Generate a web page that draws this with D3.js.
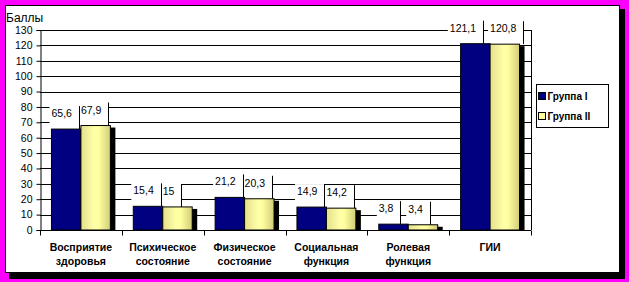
<!DOCTYPE html>
<html>
<head>
<meta charset="utf-8">
<script src="https://cdn.jsdelivr.net/npm/d3@7"></script>
<style>
  body { margin: 0; background: #ff00ff; }
  svg { display: block; font-family: 'Liberation Sans', Arial, sans-serif; }
</style>
</head>
<body>
<script>
// chart data
const categories = [
  'Восприятие\nздоровья',
  'Психическое\nсостояние',
  'Физическое\nсостояние',
  'Социальная\nфункция',
  'Ролевая\nфункция',
  'ГИИ'
];
const seriesNames = ['Группа I', 'Группа II'];
const group1 = [65.6, 15.4, 21.2, 14.9, 3.8, 121.1];
const group2 = [67.9, 15, 20.3, 14.2, 3.4, 120.8];
const yTicks = [0, 10, 20, 30, 40, 50, 60, 70, 80, 90, 100, 110, 120, 130];
const yTitle = 'Баллы';

const width = 629;
const height = 282;
const margin = { top: 30, right: 98, bottom: 52, left: 40 };
const innerWidth = width - margin.left - margin.right;
const innerHeight = height - margin.top - margin.bottom;

const series = [group1, group2];
const fills = ['#000080', 'url(#yellowGrad)'];
const legendFills = ['#000080', '#ffff99'];

const svg = d3.select('body').append('svg')
  .attr('width', width)
  .attr('height', height);

const defs = svg.append('defs');
const grad = defs.append('linearGradient')
  .attr('id', 'yellowGrad')
  .attr('x1', '0%').attr('x2', '100%')
  .attr('y1', '0%').attr('y2', '0%');
grad.append('stop').attr('offset', '0%').attr('stop-color', '#e4df8c');
grad.append('stop').attr('offset', '45%').attr('stop-color', '#ffffa8');
grad.append('stop').attr('offset', '60%').attr('stop-color', '#ffffa0');
grad.append('stop').attr('offset', '100%').attr('stop-color', '#d2cc78');

// frame with shadow
svg.append('rect')
  .attr('x', 9).attr('y', 9)
  .attr('width', 616).attr('height', 270)
  .attr('fill', '#000');
svg.append('rect')
  .attr('x', 5.5).attr('y', 5.5)
  .attr('width', 614).attr('height', 267)
  .attr('fill', '#fff')
  .attr('stroke', '#000')
  .attr('stroke-width', 1);

const g = svg.append('g')
  .attr('transform', `translate(${margin.left}, ${margin.top})`);

const xScale = d3.scaleBand()
  .domain(d3.range(categories.length))
  .range([0, innerWidth])
  .padding(0);

const bw = xScale.bandwidth();
const xInner = d3.scaleBand()
  .domain([0, 1])
  .range([bw * 0.14, bw * 0.86])
  .padding(0);

const yScale = d3.scaleLinear()
  .domain([0, 130])
  .range([innerHeight, 0]);

// gridlines
g.append('g')
  .selectAll('line').data(yTicks.slice(1)).enter().append('line')
    .attr('x1', 0)
    .attr('x2', innerWidth)
    .attr('y1', d => Math.round(yScale(d)) + 0.5)
    .attr('y2', d => Math.round(yScale(d)) + 0.5)
    .attr('stroke', '#000')
    .attr('stroke-width', 1);

g.append('line')
  .attr('x1', innerWidth + 0.5).attr('x2', innerWidth + 0.5)
  .attr('y1', 0).attr('y2', innerHeight)
  .attr('stroke', '#000');

// y axis
const yAxis = d3.axisLeft(yScale)
  .tickValues(yTicks)
  .tickSize(4)
  .tickPadding(4);
const yAxisG = g.append('g')
  .attr('transform', 'translate(0.5, 0)')
  .call(yAxis);
yAxisG.selectAll('.domain').attr('stroke', '#000');
yAxisG.selectAll('text')
  .attr('font-size', 10.5)
  .attr('fill', '#000')
  .attr('font-family', "'Liberation Sans', Arial, sans-serif");

svg.append('text')
  .attr('x', 6)
  .attr('y', 22)
  .attr('font-size', 12)
  .attr('fill', '#000')
  .text(yTitle);

// x axis
const xAxisG = g.append('g')
  .attr('transform', `translate(0, ${innerHeight + 0.5})`);
xAxisG.append('line')
  .attr('x1', 0).attr('x2', innerWidth)
  .attr('stroke', '#000');
xAxisG.selectAll('.tick').data(d3.range(categories.length + 1)).enter().append('line')
  .attr('class', 'tick')
  .attr('x1', d => Math.round(d * bw) + 0.5)
  .attr('x2', d => Math.round(d * bw) + 0.5)
  .attr('y1', 0).attr('y2', 5)
  .attr('stroke', '#000');

const catLabels = g.append('g').selectAll('text').data(categories).enter().append('text')
  .attr('x', (d, i) => xScale(i) + bw / 2)
  .attr('y', innerHeight + 21)
  .attr('text-anchor', 'middle')
  .attr('font-size', 10.5)
  .attr('font-weight', 'bold')
  .attr('fill', '#000');
catLabels.each(function(d) {
  const lines = d.split('\n');
  d3.select(this).selectAll('tspan').data(lines).enter().append('tspan')
    .attr('x', d3.select(this).attr('x'))
    .attr('dy', (l, j) => j === 0 ? 0 : 14)
    .text(l => l);
});

// value labels (boxes hide gridlines)
const labelLayer = g.append('g');
const barLayer = g.append('g');
const labelTop = g.append('g');

categories.forEach((c, i) => {
  const items = series.map((s, k) => {
    const x = xScale(i) + xInner(k);
    const y = yScale(s[i]);
    const t = labelTop.append('text')
      .attr('x', x)
      .attr('y', y - 12)
      .attr('font-size', 10.5)
      .attr('fill', '#000')
      .text(String(s[i]).replace('.', ','));
    const w = t.node().getComputedTextLength();
    return { x, y, t, w };
  });
  // push first label left if it runs into the second one
  const a = items[0], b = items[1];
  if (a.x + a.w + 7 > b.x) {
    const shift = a.x + a.w + 14 - b.x;
    a.x -= shift;
    a.t.attr('x', a.x);
  }
  items.forEach(it => {
    const left = it.x - 2;
    const right = Math.round(it.x + it.w + 7) + 0.5;
    labelLayer.append('rect')
      .attr('x', left)
      .attr('y', it.y - 23)
      .attr('width', right - left)
      .attr('height', 23)
      .attr('fill', '#fff');
    labelTop.append('line')
      .attr('x1', right).attr('x2', right)
      .attr('y1', it.y - 23).attr('y2', it.y)
      .attr('stroke', '#000');
  });
});

// bars with dark depth
series.forEach((s, k) => {
  const bars = barLayer.append('g');
  bars.selectAll('.depth').data(s).enter().append('rect')
    .attr('class', 'depth')
    .attr('x', (d, i) => xScale(i) + xInner(k) + 5)
    .attr('y', d => yScale(d) + 2)
    .attr('width', xInner.bandwidth())
    .attr('height', d => innerHeight - yScale(d) - 2)
    .attr('fill', '#000');
  bars.selectAll('.bar').data(s).enter().append('rect')
    .attr('class', 'bar')
    .attr('x', (d, i) => xScale(i) + xInner(k))
    .attr('y', d => yScale(d))
    .attr('width', xInner.bandwidth())
    .attr('height', d => innerHeight - yScale(d))
    .attr('fill', fills[k])
    .attr('stroke', '#000')
    .attr('stroke-width', 1);
});

// legend
const legend = svg.append('g')
  .attr('transform', 'translate(536.5, 84.5)');
legend.append('rect')
  .attr('width', 72)
  .attr('height', 43)
  .attr('fill', '#fff')
  .attr('stroke', '#000');
const items = legend.selectAll('.item').data(seriesNames).enter().append('g')
  .attr('class', 'item')
  .attr('transform', (d, i) => `translate(2, ${8 + i * 20})`);
items.append('rect')
  .attr('width', 7).attr('height', 7)
  .attr('fill', (d, i) => legendFills[i])
  .attr('stroke', '#000');
items.append('text')
  .attr('x', 9)
  .attr('y', 7.5)
  .attr('font-size', 10)
  .attr('font-weight', 'bold')
  .attr('fill', '#000')
  .text(d => d);
</script>
</body>
</html>
